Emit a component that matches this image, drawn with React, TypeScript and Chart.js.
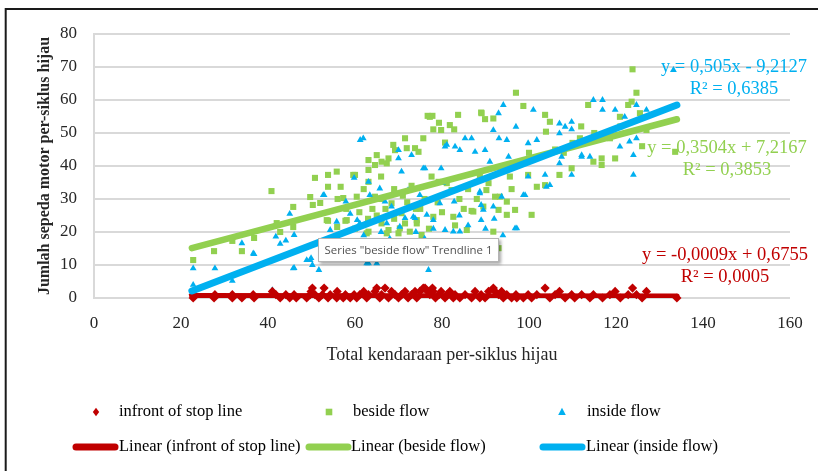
import React, { useEffect, useRef } from 'react';
import { Chart, registerables } from 'chart.js';

Chart.register(...registerables);

// ---------------- DATA ----------------
const X_TICKS = [0, 20, 40, 60, 80, 100, 120, 140, 160];
const Y_TICKS = [0, 10, 20, 30, 40, 50, 60, 70, 80];

const X_TITLE = 'Total kendaraan per-siklus hijau';
const Y_TITLE = 'Jumlah sepeda motor per-siklus hijau';

const SERIES_LABELS = ['infront of stop line', 'beside flow', 'inside flow'];
const TREND_LABELS = ['Linear (infront of stop line)', 'Linear (beside flow)', 'Linear (inside flow)'];

// [x, y] observations
const infrontOfStopLine: number[][] = [
  [22.8, 0], [22.8, 1], [27.6, 0], [27.8, 1], [31.8, 1], [31.8, 0], [34, 0], [36.6, 1], [36.8, 0],
  [41, 2], [41.8, 1], [42.8, 0], [44.1, 1], [45, 0], [46, 1], [46.5, 0], [48.9, 0], [49.7, 1],
  [49.9, 2], [50.2, 3], [50.8, 1], [51.7, 0], [52.5, 1], [52.9, 3], [53.8, 0], [54.3, 1], [55.8, 0],
  [55.9, 2], [57.3, 0], [57.8, 1], [58.9, 0], [59.8, 1], [60.4, 0], [61.1, 1], [62, 2], [62.7, 0],
  [63.1, 1], [64.6, 2], [65, 3], [65.7, 0], [66.1, 1], [66.9, 3], [67.7, 0], [68.4, 2], [69.2, 1],
  [70, 0], [70.7, 1], [71.5, 2], [72.2, 0], [73, 1], [73.8, 2], [74.2, 0], [74.9, 2], [75.7, 3],
  [76.1, 3], [76.7, 2], [77.2, 1], [77.8, 3], [78, 2], [78.5, 0], [79.3, 1], [79.8, 2], [80.7, 0],
  [81.1, 1], [81.8, 2], [82.6, 0], [83, 1], [84.1, 0], [85.3, 1], [86.8, 0], [87.6, 2], [88.7, 0],
  [89, 1], [89.9, 0], [90.7, 2], [91.8, 3], [92.2, 2], [93, 1], [93.7, 2], [94.1, 0], [94.9, 1],
  [96, 0], [97, 1], [97.2, 0], [98.7, 0], [99.8, 1], [100.6, 0], [101.8, 1], [103.7, 3], [104.8, 0],
  [106, 1], [107, 2], [108.3, 0], [109.8, 1], [110.5, 0], [112.1, 1], [114, 0], [114.8, 1],
  [116.9, 0], [118.6, 1], [119.8, 2], [121, 0], [122.8, 1], [123.8, 3], [124.7, 1], [126, 0],
  [127, 2], [134, 0],
];

const besideFlow: number[][] = [
  [22.8, 11.5], [27.6, 14.2], [31.8, 17.3], [34, 14.2], [36.8, 18.2], [40.8, 32.4], [42, 22.7],
  [42.8, 20], [45.8, 27.6], [45.8, 21.5], [49.7, 30.6], [50.3, 28.2], [50.8, 36.4], [52, 28.8],
  [53.5, 23.6], [53.8, 37.3], [53.8, 33.7], [53.8, 23.4], [55.8, 38.3], [55.9, 21.5], [56, 30],
  [56.7, 33.7], [57.3, 30.3], [57.8, 23.4], [58, 27], [58.1, 23.6], [59.6, 37.3], [60, 37.3],
  [60, 21], [60.4, 30.7], [61, 26], [62, 33], [62.7, 19.6], [63, 24], [63.1, 38.8], [63.1, 35.2],
  [63.1, 41.8], [63.1, 20.1], [64, 27], [64.6, 40.3], [64.6, 30.7], [65, 43.3], [65, 25], [66, 36.8],
  [66, 30], [66.1, 41.3], [66.1, 22.6], [67, 27], [67.3, 40.8], [67.3, 19.6], [67.7, 42.3],
  [67.7, 20.6], [68.4, 28.7], [68.8, 46.4], [69, 33], [69, 24], [69.2, 44.8], [70, 19.6],
  [70.3, 21.1], [70.7, 25.7], [71, 31], [71.5, 48.4], [71.5, 22.6], [71.9, 45.4], [72, 29],
  [72.6, 20.1], [73, 34], [73.8, 45.4], [74, 27], [74.2, 22.6], [74.2, 23.6], [74.6, 44.3],
  [75, 27], [75.3, 19.1], [75.7, 48.4], [76, 30], [76.7, 55.2], [77, 21], [77.2, 54.9], [77.6, 36.8],
  [77.8, 55.2], [78, 51.1], [78, 24.6], [79, 29], [79.2, 35.2], [79.3, 53.1], [79.8, 50.9],
  [80, 26], [80.7, 47.1], [81.1, 34.8], [81.8, 52.4], [82.2, 32.7], [82.6, 24.6], [82.8, 51.1],
  [83, 22], [83.7, 55.5], [84, 30], [85, 27], [85.7, 20.6], [86, 33], [86.8, 26.4], [87.2, 26.2],
  [88, 30], [88.7, 36.8], [89, 56.2], [89.1, 56], [89.5, 27.7], [89.9, 54.2], [90.2, 32.7],
  [90.7, 34.8], [91.8, 54.4], [91.8, 20.1], [92.2, 30.7], [93, 26.7], [93, 15.1], [93.3, 30.7],
  [94.9, 29.2], [94.9, 25.2], [95.6, 36.8], [96, 33], [96.8, 26.7], [97, 62.2], [98, 41],
  [98.7, 58.2], [99.8, 37.3], [100, 44], [100.6, 25.2], [101.8, 33.7], [103.7, 55.5], [103.7, 34.2],
  [103.9, 50.4], [104.8, 53.4], [106, 45], [107, 37.3], [108, 44], [109.8, 39.3], [110, 47],
  [111.7, 48.4], [112, 52], [113.6, 58.5], [114.8, 41.3], [115, 50], [116.7, 42.3], [116.7, 40.3],
  [118.6, 48.4], [119.8, 42.3], [120.9, 54.9], [121, 52], [122.8, 58.5], [123.6, 59.5],
  [123.8, 69.3], [124.7, 62.2], [125.5, 56], [126, 46], [127, 50.9], [133.6, 44.3],
];

const insideFlow: number[][] = [
  [22.8, 9], [22.8, 4], [27.8, 9], [31.8, 5.2], [34, 16.6], [36.6, 13.5], [36.8, 13.3], [41, 2.4],
  [41.8, 18.6], [42.8, 16.4], [44.1, 17.4], [45, 25.5], [45.8, 9], [46, 19.1], [46, 9.1],
  [48.9, 11.5], [49.7, 11.5], [49.9, 12.1], [50.2, 10], [51.7, 8.5], [52.7, 31.2], [52.9, 31.2],
  [54.3, 20.6], [55.8, 23.1], [55.8, 11.5], [57.9, 29.2], [58.9, 25.5], [59.8, 36.4], [60.5, 23.6],
  [61.1, 22.6], [61.2, 47.9], [61.9, 48.4], [62, 19], [62.7, 10.5], [63.1, 35.2], [63.1, 10.5],
  [63.4, 31.2], [64, 17], [65, 10.5], [65.7, 33.2], [66, 20], [66.9, 29.2], [67.3, 22.6], [68, 18],
  [68.4, 27.7], [70, 44.8], [70, 42.3], [70.3, 21.6], [70.7, 38.3], [71.5, 24.2], [72, 17],
  [72.2, 32.7], [73, 43.3], [73.4, 24.6], [73.8, 24.2], [74, 20], [74.9, 31.2], [75.7, 39.3],
  [76, 18], [76.1, 39.3], [76.5, 25.2], [76.9, 8.5], [78, 23.6], [78, 21], [79.5, 28.7],
  [79.8, 39.3], [80.1, 34.8], [80.7, 45.9], [80.7, 20.6], [81.1, 46.4], [82.6, 20.1], [82.8, 29.2],
  [83, 45.9], [84, 25], [84.1, 44.8], [84.1, 20.1], [85.3, 48.4], [86, 22], [86.8, 48.4],
  [87.6, 44.3], [88.7, 31.7], [88.7, 32.2], [89, 28.2], [89, 23.6], [89.5, 26.7], [89.9, 44.8],
  [90, 21], [91, 41.3], [91.8, 50.9], [91.8, 27.7], [92, 24], [93, 56], [93.1, 48.4], [93.7, 30.7],
  [94, 19], [94.1, 58.5], [94.9, 47.9], [95.3, 42.8], [96, 39.8], [96.8, 21.1], [97, 51.9],
  [97.2, 21.1], [98.7, 31.2], [99.1, 31.2], [99.8, 46.9], [99.8, 36.8], [101, 57], [101.8, 47.9],
  [103.7, 37.3], [104, 33.7], [104.8, 34.2], [107, 52.9], [107, 49.9], [107, 40.8], [107.5, 42.8],
  [108.3, 51.9], [109.8, 53.4], [109.8, 51.1], [109.8, 37.3], [112.1, 42.8], [112.1, 43.3],
  [114, 42.8], [114.8, 60], [116.9, 60], [116.9, 57], [119.8, 57], [120.9, 45.9], [122, 54.9],
  [123.1, 47.4], [124, 43.3], [124.7, 58.5], [124, 37.3], [124.7, 48.4], [127, 57], [133.2, 69.1],
];

// Trendline coefficients [slope, intercept] as printed on the chart
const TREND_X = [22.5, 134];
const infrontCoef = [-0.0009, 0.6755];
const besideCoef = [0.3504, 7.2167];
const insideCoef = [0.505, -9.2127];

const infrontEq = ['y = -0,0009x + 0,6755', 'R² = 0,0005'];
const besideEq = ['y = 0,3504x + 7,2167', 'R² = 0,3853'];
const insideEq = ['y = 0,505x - 9,2127', 'R² = 0,6385'];

const TOOLTIP_TEXT = 'Series "beside flow" Trendline 1';

// ---------------- STYLE ----------------
const RED = '#C00000';
const GREEN = '#92D050';
const BLUE = '#00B0F0';
const SERIF = "'Liberation Serif', 'Times New Roman', serif";
const TEXT = '#262626';

const toXY = (arr: number[][]) => arr.map(([x, y]) => ({ x, y }));
const trend = (c: number[]) => TREND_X.map((x) => ({ x, y: c[0] * x + c[1] }));

function drawMarker(ctx: CanvasRenderingContext2D, kind: string, x: number, y: number, color: string) {
  ctx.save();
  ctx.fillStyle = color;
  ctx.beginPath();
  if (kind === 'diamond') {
    ctx.moveTo(x, y - 4.3);
    ctx.lineTo(x + 3.2, y);
    ctx.lineTo(x, y + 4.3);
    ctx.lineTo(x - 3.2, y);
  } else if (kind === 'square') {
    ctx.rect(x - 3.3, y - 3.3, 6.6, 6.6);
  } else {
    ctx.moveTo(x, y - 4.2);
    ctx.lineTo(x + 3.8, y + 3);
    ctx.lineTo(x - 3.8, y + 3);
  }
  ctx.closePath();
  ctx.fill();
  ctx.restore();
}

const decorPlugin = {
  id: 'decor',
  afterDraw(chart: any) {
    const ctx: CanvasRenderingContext2D = chart.ctx;
    const W = chart.width;
    const H = chart.height;
    // outer frame (top + left)
    ctx.save();
    ctx.strokeStyle = '#1a1a1a';
    ctx.lineWidth = 2;
    ctx.beginPath();
    ctx.moveTo(W, 9);
    ctx.lineTo(5.7, 9);
    ctx.lineTo(5.7, H);
    ctx.stroke();
    ctx.restore();

    // trendline equations
    const eqs = [
      { lines: insideEq, color: BLUE, cx: 734, y: [67, 89] },
      { lines: besideEq, color: GREEN, cx: 727, y: [148, 170] },
      { lines: infrontEq, color: RED, cx: 725, y: [255, 277.5] },
    ];
    ctx.save();
    ctx.font = `18.5px ${SERIF}`;
    ctx.textAlign = 'center';
    ctx.textBaseline = 'middle';
    eqs.forEach((e) => {
      ctx.fillStyle = e.color;
      e.lines.forEach((t, i) => ctx.fillText(t, e.cx, e.y[i]));
    });
    ctx.restore();

    // legend
    ctx.save();
    ctx.font = `16.5px ${SERIF}`;
    ctx.textAlign = 'left';
    ctx.textBaseline = 'middle';
    ctx.fillStyle = '#000';
    const row1 = 412;
    const row2 = 447;
    const markers = [
      { kind: 'diamond', color: RED, mx: 96, tx: 119 },
      { kind: 'square', color: GREEN, mx: 329, tx: 353 },
      { kind: 'triangle', color: BLUE, mx: 562, tx: 587 },
    ];
    markers.forEach((m, i) => {
      drawMarker(ctx, m.kind, m.mx, row1, m.color);
      ctx.fillText(SERIES_LABELS[i], m.tx, row1);
    });
    const lines = [
      { color: RED, x0: 76, x1: 115, tx: 119 },
      { color: GREEN, x0: 309, x1: 348, tx: 351 },
      { color: BLUE, x0: 543, x1: 582, tx: 586 },
    ];
    lines.forEach((l, i) => {
      ctx.save();
      ctx.strokeStyle = l.color;
      ctx.lineWidth = 7;
      ctx.lineCap = 'round';
      ctx.beginPath();
      ctx.moveTo(l.x0, row2);
      ctx.lineTo(l.x1, row2);
      ctx.stroke();
      ctx.restore();
      ctx.fillText(TREND_LABELS[i], l.tx, row2);
    });
    ctx.restore();

    // hover tooltip box
    ctx.save();
    const bx = 318, by = 238, bw = 181, bh = 24;
    ctx.shadowColor = 'rgba(0,0,0,0.35)';
    ctx.shadowBlur = 3;
    ctx.shadowOffsetX = 2;
    ctx.shadowOffsetY = 2;
    ctx.fillStyle = '#ffffff';
    ctx.fillRect(bx, by, bw, bh);
    ctx.shadowColor = 'transparent';
    ctx.strokeStyle = '#b4b4b4';
    ctx.lineWidth = 1;
    ctx.strokeRect(bx + 0.5, by + 0.5, bw - 1, bh - 1);
    const fam = "'Open Sans', 'Noto Sans', sans-serif";
    ctx.font = `12px ${fam}`;
    const w12 = ctx.measureText(TOOLTIP_TEXT).width;
    const size = (12 * 168) / w12;
    ctx.font = `${size}px ${fam}`;
    ctx.fillStyle = '#505050';
    ctx.textAlign = 'center';
    ctx.textBaseline = 'middle';
    ctx.fillText(TOOLTIP_TEXT, bx + bw / 2, by + bh / 2 + 0.5);
    ctx.restore();
  },
};

export default function App() {
  const ref = useRef<HTMLCanvasElement | null>(null);

  useEffect(() => {
    document.body.style.margin = '0';
    const canvas = ref.current;
    if (!canvas) return;
    // Datasets listed top-most first (Chart.js draws index 0 last).
    const chart = new Chart(canvas, {
      type: 'scatter',
      data: {
        datasets: [
          {
            label: TREND_LABELS[2],
            data: trend(insideCoef),
            showLine: true,
            borderColor: BLUE,
            backgroundColor: BLUE,
            borderWidth: 7,
            borderCapStyle: 'round',
            pointRadius: 0,
          },
          {
            label: TREND_LABELS[1],
            data: trend(besideCoef),
            showLine: true,
            borderColor: GREEN,
            backgroundColor: GREEN,
            borderWidth: 6.5,
            borderCapStyle: 'round',
            pointRadius: 0,
          },
          {
            label: SERIES_LABELS[0],
            data: toXY(infrontOfStopLine),
            pointStyle: 'rectRot',
            pointRadius: 4.6,
            backgroundColor: RED,
            borderColor: RED,
            borderWidth: 0,
            clip: false,
          },
          {
            label: TREND_LABELS[0],
            data: trend(infrontCoef),
            showLine: true,
            borderColor: RED,
            backgroundColor: RED,
            borderWidth: 5.5,
            borderCapStyle: 'round',
            pointRadius: 0,
          },
          {
            label: SERIES_LABELS[2],
            data: toXY(insideFlow),
            pointStyle: 'triangle',
            pointRadius: 3.9,
            backgroundColor: BLUE,
            borderColor: BLUE,
            borderWidth: 0,
          },
          {
            label: SERIES_LABELS[1],
            data: toXY(besideFlow),
            pointStyle: 'rect',
            pointRadius: 4.3,
            backgroundColor: GREEN,
            borderColor: GREEN,
            borderWidth: 0,
          },
        ] as any,
      },
      options: {
        animation: false,
        responsive: false,
        events: [],
        layout: { padding: { top: 34, right: 28, left: 30, bottom: 105 } },
        plugins: {
          legend: { display: false },
          tooltip: { enabled: false },
          title: { display: false },
        },
        scales: {
          x: {
            type: 'linear',
            min: X_TICKS[0],
            max: X_TICKS[X_TICKS.length - 1],
            afterBuildTicks: (s: any) => {
              s.ticks = X_TICKS.map((v) => ({ value: v }));
            },
            afterFit: (s: any) => {
              s.height = 68;
            },
            grid: { display: false, drawTicks: false },
            border: { display: false },
            ticks: {
              padding: 15,
              color: TEXT,
              font: { family: SERIF, size: 17 },
            },
            title: {
              display: true,
              text: X_TITLE,
              color: TEXT,
              font: { family: SERIF, size: 18 },
              padding: { top: 0, bottom: 0 },
            },
          },
          y: {
            type: 'linear',
            min: Y_TICKS[0],
            max: Y_TICKS[Y_TICKS.length - 1],
            afterBuildTicks: (s: any) => {
              s.ticks = Y_TICKS.map((v) => ({ value: v }));
            },
            afterFit: (s: any) => {
              s.width = 64;
            },
            grid: { color: '#d9d9d9', lineWidth: 2, drawTicks: false },
            border: { display: true, color: '#d9d9d9', width: 2 },
            ticks: {
              padding: 17,
              color: TEXT,
              font: { family: SERIF, size: 17 },
            },
            title: {
              display: true,
              text: Y_TITLE,
              color: TEXT,
              font: { family: SERIF, size: 16, weight: 'bold' },
              padding: { top: 5, bottom: 0 },
            },
          },
        },
      },
      plugins: [decorPlugin],
    } as any);
    return () => chart.destroy();
  }, []);

  return (
    <div style={{ position: 'relative', width: 818, height: 471, background: '#fff' }}>
      <canvas ref={ref} width={818} height={471} style={{ display: 'block' }} />
    </div>
  );
}
